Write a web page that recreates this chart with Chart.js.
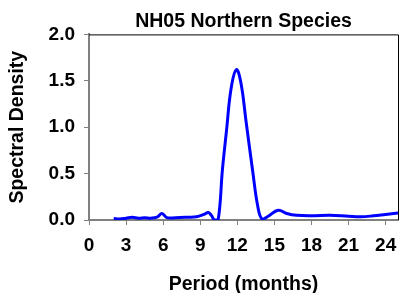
<!DOCTYPE html>
<html>
<head>
<meta charset="utf-8">
<script src="https://cdn.jsdelivr.net/npm/chart.js@4.4.1/dist/chart.umd.min.js"></script>
<style>
  html, body { margin: 0; padding: 0; background: #fff; }
  #wrap { width: 400px; height: 293px; }
</style>
</head>
<body>
<div id="wrap"><canvas id="chart" width="400" height="293"></canvas></div>
<script>
// periodo (meses) y densidad espectral
const periodos = [2.0, 2.5, 3.0, 3.5, 4.0, 4.5, 5.0, 5.5, 5.9, 6.3, 7.0, 8.0, 8.7, 9.3, 9.65, 9.9,
                  10.15, 10.45, 10.8, 11.13, 11.5, 11.93, 12.3, 12.7, 13.25, 13.65, 14.0, 14.5,
                  15.3, 16.0, 16.8, 18.0, 19.5, 21.0, 22.0, 23.0, 24.0, 25.0];
const densidad = [0.015, 0.01, 0.02, 0.03, 0.02, 0.025, 0.02, 0.03, 0.07, 0.025, 0.025, 0.03, 0.035, 0.06, 0.08, 0.05,
                  0.0, 0.0, 0.55, 0.97, 1.42, 1.62, 1.47, 1.07, 0.52, 0.15, 0.01, 0.04,
                  0.105, 0.07, 0.05, 0.045, 0.05, 0.04, 0.035, 0.045, 0.06, 0.075];
const xTicks = [0, 3, 6, 9, 12, 15, 18, 21, 24];
const yTicks = [0, 0.5, 1.0, 1.5, 2.0];

const fuente = 'Liberation Sans, Arial, sans-serif';
const gris = '#808080';

// marco negro arriba y a la derecha
const marco = {
    id: 'marco',
    afterDraw(chart) {
        const {ctx, chartArea} = chart;
        ctx.save();
        ctx.strokeStyle = '#000';
        ctx.lineWidth = 1;
        ctx.beginPath();
        ctx.moveTo(chartArea.left, chartArea.top + 0.5);
        ctx.lineTo(chartArea.right + 0.5, chartArea.top + 0.5);
        ctx.lineTo(chartArea.right + 0.5, chartArea.bottom);
        ctx.stroke();
        ctx.restore();
    }
};

const ctx = document.getElementById('chart').getContext('2d');
new Chart(ctx, {
    type: 'line',
    data: {
        datasets: [{
            data: periodos.map((p, i) => ({x: p, y: densidad[i]})),
            borderColor: '#0000ff',
            borderWidth: 3,
            pointRadius: 0,
            tension: 0.4,
            fill: false
        }]
    },
    options: {
        responsive: false,
        animation: false,
        layout: {padding: {top: 0, right: 2, left: 0, bottom: 0}},
        plugins: {
            legend: {display: false},
            tooltip: {enabled: false},
            title: {
                display: true,
                fullSize: false,
                text: 'NH05 Northern Species',
                color: '#000',
                font: {family: fuente, size: 19.5, weight: 'bold', lineHeight: 1.2},
                padding: {top: 10, bottom: 1}
            }
        },
        scales: {
            x: {
                type: 'linear',
                min: 0,
                max: 25,
                afterBuildTicks: s => { s.ticks = xTicks.map(v => ({value: v})); },
                afterFit: s => { s.height = 73; s.paddingLeft = 0; s.paddingRight = 0; },
                grid: {display: true, drawOnChartArea: false, drawTicks: true, tickLength: 5, color: gris, lineWidth: 1},
                border: {display: true, color: gris, width: 2},
                ticks: {color: '#000', font: {family: fuente, size: 19, weight: 'bold'}, padding: 9, maxRotation: 0},
                title: {
                    display: true,
                    text: 'Period (months)',
                    color: '#000',
                    font: {family: fuente, size: 19.5, weight: 'bold', lineHeight: 0.9},
                    padding: {top: 0, bottom: 0}
                }
            },
            y: {
                min: 0,
                max: 2,
                afterBuildTicks: s => { s.ticks = yTicks.map(v => ({value: v})); },
                afterFit: s => { s.width = 89; s.paddingTop = 0; s.paddingBottom = 0; },
                grid: {display: true, drawOnChartArea: false, drawTicks: true, tickLength: 5, color: gris, lineWidth: 1},
                border: {display: true, color: gris, width: 2},
                ticks: {color: '#000', font: {family: fuente, size: 19, weight: 'bold'}, padding: 9,
                        callback: v => v.toFixed(1)},
                title: {
                    display: true,
                    text: 'Spectral Density',
                    color: '#000',
                    font: {family: fuente, size: 19.5, weight: 'bold', lineHeight: 1.2},
                    padding: {top: 6, bottom: 0}
                }
            }
        }
    },
    plugins: [marco]
});
</script>
</body>
</html>
